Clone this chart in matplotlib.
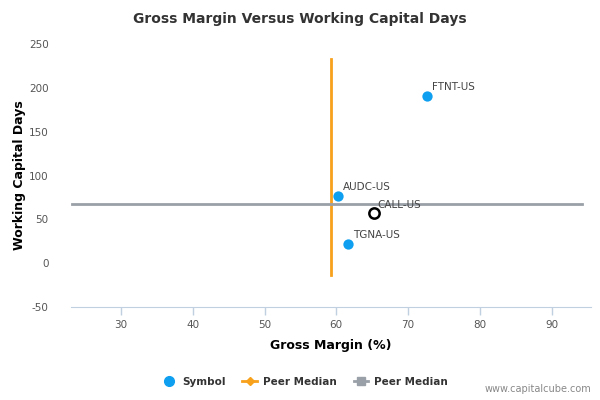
import numpy as np
import matplotlib.pyplot as plt
from matplotlib.lines import Line2D

plt.rcParams["axes.unicode_minus"] = False

# Donnees
symbols = ["FTNT-US", "AUDC-US", "TGNA-US"]
gross_margin = [72.7, 60.3, 61.7]
wc_days = [191, 77, 22]

call_label = "CALL-US"
call_margin = 65.2
call_days = 57

# Medianes des pairs
peer_median_x = [59.2, 59.2]
peer_median_x_span = [-13, 233]
peer_median_y = [67, 67]
peer_median_y_span = [23.2, 94.3]

xticks = [30, 40, 50, 60, 70, 80, 90]
yticks = [-50, 0, 50, 100, 150, 200, 250]

blue = "#0e9ff0"
orange = "#f8a11c"
grey = "#9aa0a8"

fig = plt.figure(figsize=(6, 4), dpi=100)
ax = fig.add_axes([0.118, 0.2325, 0.867, 0.6575])

ax.plot(peer_median_x, peer_median_x_span, color=orange, lw=2, zorder=2)
ax.plot(peer_median_y_span, peer_median_y, color=grey, lw=2, zorder=2)

ax.scatter(gross_margin, wc_days, s=55, color=blue, zorder=3, linewidths=0)
ax.scatter([call_margin], [call_days], s=55, facecolor="white", edgecolor="black",
           linewidths=1.8, zorder=3)

for name, x, y in zip(symbols, gross_margin, wc_days):
    ax.annotate(name, (x, y), xytext=(3, 4), textcoords="offset points",
                fontsize=7.5, color="#444444")
ax.annotate(call_label, (call_margin, call_days), xytext=(3, 4),
            textcoords="offset points", fontsize=7.5, color="#444444")

ax.set_xlim(23.0, 95.5)
ax.set_ylim(-50, 250)
ax.set_xticks(xticks)
ax.set_yticks(yticks)

for s in ["top", "right", "left"]:
    ax.spines[s].set_visible(False)
ax.spines["bottom"].set_color("#c0d0e0")
ax.tick_params(axis="x", colors="#c0d0e0", labelcolor="#555555", labelsize=7.5,
               length=6, width=1)
ax.tick_params(axis="y", length=0, labelcolor="#555555", labelsize=7.5, pad=16)

ax.set_xlabel("Gross Margin (%)", fontsize=9, fontweight="bold", labelpad=6)
ax.set_ylabel("Working Capital Days", fontsize=9, fontweight="bold", labelpad=2)
fig.suptitle("Gross Margin Versus Working Capital Days", x=0.5, y=0.97,
             fontsize=10, fontweight="bold", color="#333333")

handles = [
    Line2D([], [], marker="o", color=blue, ls="none", markersize=7),
    Line2D([], [], marker="D", color=orange, lw=2, markersize=4),
    Line2D([], [], marker="s", color=grey, lw=2, markersize=6),
]
leg = fig.legend(handles, ["Symbol", "Peer Median", "Peer Median"],
                 loc="center", bbox_to_anchor=(0.508, 0.046), ncol=3, frameon=False,
                 prop={"weight": "bold", "size": 7.5}, handlelength=1.4,
                 handletextpad=0.6, columnspacing=1.6)
for t in leg.get_texts():
    t.set_color("#333333")

fig.text(0.985, 0.015, "www.capitalcube.com", ha="right", va="bottom",
         fontsize=7, color="#888888")

fig.savefig("out.png", dpi=100)
